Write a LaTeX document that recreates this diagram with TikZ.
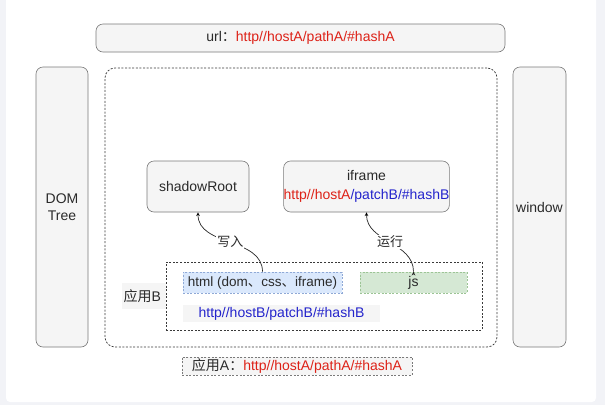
\documentclass[tikz,border=0pt]{standalone}
\usepackage{fontspec}
\setmainfont{Liberation Sans}
\newfontfamily\cjk{Noto Sans CJK SC}
\usetikzlibrary{arrows}
\definecolor{pagegray}{HTML}{F2F3F7}
\definecolor{boxfill}{HTML}{F5F5F5}
\definecolor{boxline}{HTML}{7A7A7A}
\definecolor{dashline}{HTML}{3A3A3A}
\definecolor{textgray}{HTML}{2A2A2A}
\definecolor{urlred}{HTML}{DD2218}
\definecolor{urlblue}{HTML}{2424CC}
\definecolor{htmlfill}{HTML}{DAE8FC}
\definecolor{htmlline}{HTML}{8FA9D6}
\definecolor{jsfill}{HTML}{D5E8D4}
\definecolor{jsline}{HTML}{9CC495}

\begin{document}
\begin{tikzpicture}[x=1pt,y=-1pt,line width=0.6pt,font=\fontsize{14}{17}\selectfont,text=textgray,
  box/.style={draw=boxline,fill=boxfill,rounded corners=7pt,inner sep=0pt},
  dashbox/.style={draw=dashline,dash pattern=on 2pt off 1.6pt,line width=0.75pt,inner sep=0pt},
  part/.style={dash pattern=on 2pt off 1.6pt,inner sep=0pt},
  lbl/.style={fill=white,inner sep=1pt,font=\cjk\fontsize{13}{14}\selectfont},
  link/.style={->,>=stealth,draw=black!85,line width=0.7pt}]
\useasboundingbox (0,0) rectangle (605,405);
\fill[pagegray] (0,0) rectangle (605,405);
\fill[white,rounded corners=4pt] (6,-10) rectangle (596,402);

\node[box,minimum width=409,minimum height=28] (url) at (300.5,38)
  {url{\cjk ：}\textcolor{urlred}{http//hostA/pathA/\#hashA}};
\node[box,minimum width=52,minimum height=280,align=center] (dom) at (62,207) {DOM\\Tree};
\node[box,minimum width=53,minimum height=280] (win) at (539.5,207) {window};
\node[dashbox,rounded corners=10pt,minimum width=392,minimum height=279] (appA) at (301,207.5) {};
\node[box,minimum width=102,minimum height=51] (shadow) at (198,186.5) {shadowRoot};
\node[box,minimum width=165,minimum height=51,align=center] (iframe) at (366.5,186.5)
  {iframe\\[2pt]\textcolor{urlred}{http//hostA}\textcolor{urlblue}{/patchB/\#hashB}};
\node[fill=boxfill,minimum width=44,minimum height=26,inner sep=0pt,anchor=west] (labB) at (122,296)
  {\hspace*{-4pt}{\cjk 应用}B};
\node[dashbox,fill=white,minimum width=316,minimum height=68] (appB) at (324,296) {};
\node[part,draw=htmlline,fill=htmlfill,minimum width=159,minimum height=21,
  font=\fontsize{13.5}{16}\selectfont] (html) at (262.5,282.5)
  {html (dom{\cjk 、}css{\cjk 、}iframe)};
\node[part,draw=jsline,fill=jsfill,minimum width=107,minimum height=21] (js) at (413.5,282.5) {js};
\node[fill=boxfill,minimum width=197,minimum height=17,inner sep=0pt] (urlB) at (281.5,313.5)
  {\textcolor{urlblue}{http//hostB/patchB/\#hashB}};
\node[dashbox,draw=boxline,line width=0.6pt,fill=boxfill,minimum width=230,minimum height=18] (labA) at (297,366)
  {{\cjk 应用}A{\cjk ：}\textcolor{urlred}{http//hostA/pathA/\#hashA}};

\path[link] (html.north) edge[out=90,in=-90] node[lbl] {写入} (shadow.south)
  (js.north) edge[out=90,in=-90] node[lbl] {运行} (iframe.south);
\end{tikzpicture}
\end{document}
